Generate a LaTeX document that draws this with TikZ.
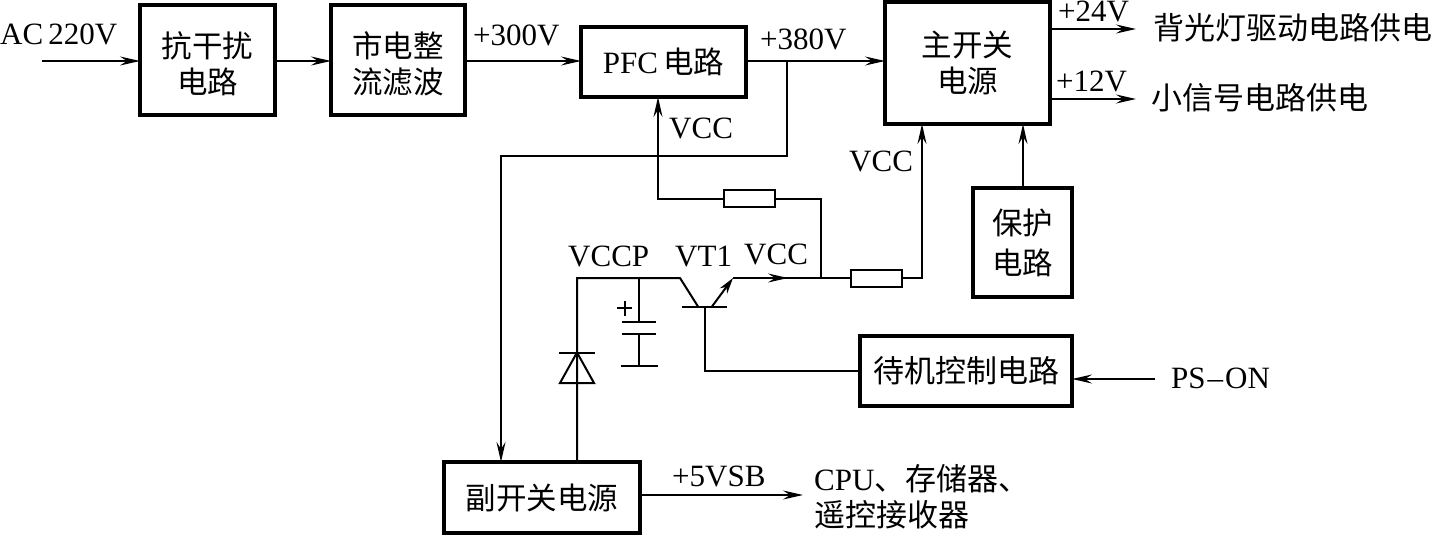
\documentclass[tikz,border=0pt]{standalone}
\usepackage{fontspec}
\setmainfont{Liberation Serif}
\newfontfamily\cjk{Noto Sans CJK SC}[Scale=1]
\newcommand{\latn}{\fontsize{31}{34}\selectfont\rmfamily}
\usetikzlibrary{arrows.meta}
\tikzset{
  x=1pt,y=-1pt,
  wire/.style={line width=2pt,line join=miter},
  arr/.style={wire,-{Stealth[length=20pt,width=9pt,inset=7pt]}},
  block/.style={draw,line width=4pt,inner sep=0pt,outer sep=0pt,align=center,font=\fontsize{30.5}{36}\selectfont\cjk,anchor=north west},
  res/.style={draw,line width=2pt,inner sep=0pt,outer sep=0pt,minimum width=51pt,minimum height=17pt,fill=white},
  lab/.style={inner sep=0pt,font=\latn,anchor=base west},
  cn/.style={inner sep=0pt,font=\fontsize{31}{36}\selectfont\cjk,anchor=west,align=left},
}
\begin{document}
\begin{tikzpicture}
\useasboundingbox (0,0) rectangle (1435,535);
% blocks
\node[block,minimum width=135pt,minimum height=110pt] (b1) at (140,5) {\rule{0pt}{33pt}抗干扰\\电路};
\node[block,minimum width=134pt,minimum height=110pt] (b2) at (331,5) {\rule{0pt}{33pt}市电整\\流滤波};
\node[block,minimum width=165pt,minimum height=70pt] (pfc) at (581,27) {{\latn PFC\,}电路};
\node[block,minimum width=165pt,minimum height=122pt] (main) at (885,2) {主开关\\电源};
\node[block,minimum width=99pt,minimum height=109pt] (prot) at (973,188) {保护\\[4pt]电路};
\node[block,minimum width=212pt,minimum height=70pt,font=\fontsize{31}{36}\selectfont\cjk] (stby) at (860,336) {待机控制电路};
\node[block,minimum width=196pt,minimum height=71pt] (sub) at (444,462) {副开关电源};
% free ends
\coordinate (acin) at (42,61);
\coordinate (o24) at (1136,29);
\coordinate (o12) at (1136,99);
\coordinate (ps) at (1155,379);
\coordinate (o5) at (803,495);
\coordinate (j380) at (787,61);
\coordinate (c1) at (787,156);
\coordinate (c2) at (501,156);
\coordinate (jv) at (821,278);
\coordinate (coll) at (680,278);
\coordinate (collb) at (698,306.5);
\coordinate (emb) at (712,306.5);
\coordinate (em) at (733,278);
\coordinate (capj) at (639,278);
\coordinate (ptop) at (577,278);
\coordinate (dbar) at (577,352.5);
\coordinate (dbase) at (577,383);
\coordinate (bas) at (705,306.5);
% top row
\draw[arr] (acin) -- (b1.west|-acin);
\draw[arr] (b1.east|-acin) -- (b2.west|-acin);
\draw[arr] (b2.east|-acin) -- (pfc.west|-acin);
\draw[arr] (pfc.east|-acin) -- (main.west|-acin);
\draw[arr] (main.east|-o24) -- (o24);
\draw[arr] (main.east|-o12) -- (o12);
% +380 branch
\draw[arr] (j380) -- (c1) -- (c2) -- (sub.north-|c2);
% resistors
\node[res] (r1) at (749.5,198.5) {};
\node[res] (r2) at (876.5,278) {};
% VCC rail
\draw[arr] (r1.west) -- (658,198.5) -- (pfc.south-|658,0);
\draw[wire] (r1.east) -- (821,198.5) -- (jv);
\draw[wire] (em) -- (r2.west);
\draw[arr] (em) -- (788,278);
\draw[arr] (r2.east) -- (922,278) -- (main.south-|922,0);
\draw[arr] (prot.north-|1023,0) -- (main.south-|1023,0);
% transistor
\draw[wire] (sub.north-|ptop) -- (ptop) -- (coll) -- (collb);
\draw[wire] (682,306.5) -- (727,306.5);
\draw[wire,-{Stealth[length=16pt,width=9pt,inset=5pt]}] (emb) -- (em);
\draw[wire] (bas) -- (705,371) -- (stby.west|-0,371);
% capacitor
\draw[wire] (capj) -- (639,322);
\draw[wire] (622,322) -- (656,322);
\draw[wire] (622,334) -- (656,334);
\draw[wire] (639,334) -- (639,366);
\draw[wire] (621,366) -- (658,366);
\draw[wire] (617,308) -- (632,308) (624.5,300.5) -- (624.5,315.5);
% diode
\draw[wire] (559,352.5) -- (595,352.5);
\draw[wire] (dbar) -- (594,383) -- (560,383) -- cycle;
% inputs and outputs
\draw[arr] (ps) -- (stby.east|-ps);
\draw[arr] (sub.east|-o5) -- (o5);
% labels
\node[lab] (t1) at (0,45) {AC\,220V};
\node[lab] (t2) at (473,46) {+300V};
\node[lab] (t3) at (760,49) {+380V};
\node[lab] (t4) at (1058,22) {+24V};
\node[lab] (t5) at (1056,92) {+12V};
\node[lab] (t6) at (669,138) {VCC};
\node[lab] (t7) at (849,171) {VCC};
\node[lab] (t8) at (568,266) {VCCP};
\node[lab] (t9) at (675,266) {VT1};
\node[lab] (t10) at (744,264) {VCC};
\node[lab] (t11) at (1171,388) {PS\kern2pt–\kern2pt ON};
\node[lab] (t12) at (672,486) {+5VSB};
\node[cn] (t13) at (1153,28) {背光灯驱动电路供电};
\node[cn] (t14) at (1151,98) {小信号电路供电};
\node[cn,text width=240pt] (t15) at (814,497) {{\latn CPU}、存储器、\\遥控接收器};
\end{tikzpicture}
\end{document}
